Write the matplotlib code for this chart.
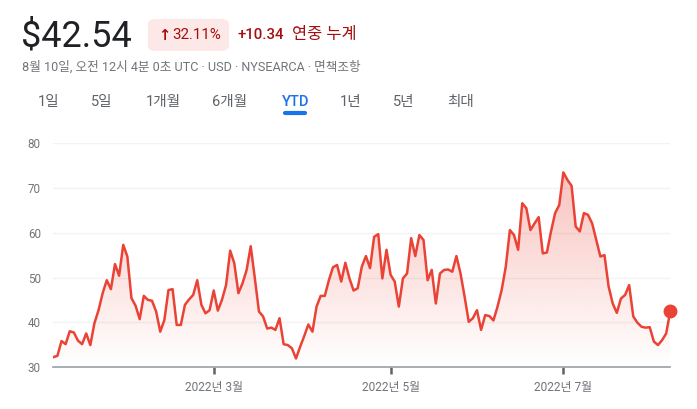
import numpy as np
import matplotlib
matplotlib.use("Agg")
import matplotlib.pyplot as plt
from matplotlib.patches import FancyBboxPatch, Polygon

# ---- data ----
prices = [32.2, 32.5, 35.8, 35.1, 38.0, 37.7, 35.9, 35.1, 37.5, 34.9,
          39.8, 42.7, 46.5, 49.4, 47.4, 53.0, 50.4, 57.3, 54.7, 45.4,
          43.7, 40.7, 45.9, 45.0, 44.8, 42.4, 37.9, 40.5, 47.2, 47.4,
          39.4, 39.4, 43.9, 45.1, 46.1, 49.4, 43.9, 42.0, 42.7, 47.1,
          42.6, 45.0, 48.3, 56.0, 53.2, 46.5, 48.7, 51.7, 57.0, 49.8,
          42.4, 41.3, 38.6, 38.8, 38.3, 40.9, 35.1, 34.9, 34.2, 31.9,
          34.5, 36.9, 39.5, 37.9, 43.5, 45.9, 45.9, 49.4, 52.3, 52.8,
          49.1, 53.3, 49.8, 47.1, 47.6, 52.4, 54.8, 52.1, 59.1, 59.7,
          49.8, 56.2, 50.6, 49.1, 43.5, 49.8, 50.9, 58.8, 54.8, 59.5,
          58.4, 49.4, 51.7, 44.2, 50.9, 51.7, 51.8, 51.3, 54.8, 50.9,
          45.7, 40.1, 40.9, 42.7, 38.3, 41.6, 41.4, 40.4, 43.5, 47.2,
          52.4, 60.6, 59.5, 56.2, 66.6, 65.5, 60.6, 62.1, 63.5, 55.4,
          55.6, 60.3, 64.4, 66.2, 73.5, 71.8, 70.5, 61.4, 60.3, 64.4,
          64.0, 62.1, 58.4, 54.7, 55.0, 48.0, 44.2, 42.1, 45.3, 46.1,
          48.3, 41.3, 39.9, 39.0, 38.8, 38.9, 35.7, 34.9, 36.0, 37.5,
          42.54]
xtick_idx = [39, 82, 124]
xtick_labels = ["2022년 3월", "2022년 5월", "2022년 7월"]
yticks = [30, 40, 50, 60, 70, 80]
tabs = ["1일", "5일", "1개월", "6개월", "YTD", "1년", "5년", "최대"]
tab_x = [38, 91, 146, 212, 282, 340, 393, 447]

FONT = ["Roboto", "Noto Sans CJK KR", "DejaVu Sans"]
plt.rcParams["font.family"] = FONT

RED = "#ea4335"
GRAY = "#70757a"
DARK = "#202124"
W, H = 697, 409

fig = plt.figure(figsize=(W / 100, H / 100), dpi=100)
fig.patch.set_facecolor("white")

def fx(px):
    return px / W

def fy(py):
    return 1 - py / H

# ---- header ----
fig.text(fx(21), fy(37), "$42.54", fontsize=26, color=DARK, va="center", ha="left")
pill = FancyBboxPatch((fx(148), fy(51)), fx(229) - fx(148), fy(19) - fy(51),
                      boxstyle="round,pad=0,rounding_size=0.012",
                      transform=fig.transFigure, facecolor="#fce8e6", edgecolor="none")
fig.add_artist(pill)
fig.text(fx(158), fy(35), "↑", fontsize=10.5, color="#a50e0e", va="center", ha="left",
         fontweight="bold", family=["DejaVu Sans"])
fig.text(fx(172), fy(35), "32.11%", fontsize=10.8, color="#a50e0e", va="center", ha="left")
fig.text(fx(237), fy(35), "+10.34", fontsize=10.8, color="#a50e0e", va="center", ha="left",
         fontweight="medium")
fig.text(fx(292), fy(34.5), "연중 누계", fontsize=11.8, color="#a50e0e", va="center", ha="left")
fig.text(fx(22), fy(67), "8월 10일, 오전 12시 4분 0초 UTC · USD · NYSEARCA · 면책조항",
         fontsize=9.1, color=GRAY, va="center", ha="left")

for lab, x in zip(tabs, tab_x):
    col = "#1a73e8" if lab == "YTD" else "#5f6368"
    fig.text(fx(x), fy(102), lab, fontsize=10.5, color=col, va="center", ha="left",
             fontweight="medium" if lab == "YTD" else "normal")
fig.add_artist(plt.Line2D([fx(285), fx(305)], [fy(113), fy(113)], transform=fig.transFigure,
                          color="#1a73e8", linewidth=3, solid_capstyle="round"))

# ---- chart ----
ax = fig.add_axes([fx(53.3), fy(367), fx(670.3) - fx(53.3), fy(143.3) - fy(367)])
x = np.arange(len(prices))
y = np.array(prices)
ax.set_xlim(0, len(prices) - 1)
ax.set_ylim(30, 80)

for v in yticks[1:]:
    ax.axhline(v, color="#f1f3f4", linewidth=1, zorder=0)

# gradient fill
ymax = y.max()
grad = np.zeros((256, 1, 4))
rgb = matplotlib.colors.to_rgb(RED)
grad[:, 0, 0:3] = rgb
grad[:, 0, 3] = np.linspace(0.32, 0.0, 256)
im = ax.imshow(grad, extent=[0, len(prices) - 1, 30, ymax], aspect="auto",
               origin="upper", zorder=1)
verts = [(0, 30)] + list(zip(x, y)) + [(len(prices) - 1, 30)]
poly = Polygon(verts, closed=True, facecolor="none", edgecolor="none")
ax.add_patch(poly)
im.set_clip_path(poly)

ax.plot(x, y, color=RED, linewidth=1.8, solid_joinstyle="round", zorder=3)
ax.plot([x[-1]], [y[-1]], "o", color=RED, markersize=9, clip_on=False, zorder=4)

for s in ["top", "right", "left"]:
    ax.spines[s].set_visible(False)
ax.spines["bottom"].set_color("#9aa0a6")
ax.spines["bottom"].set_linewidth(1.2)

ax.set_yticks(yticks)
ax.set_yticklabels([str(v) for v in yticks])
ax.tick_params(axis="y", length=0, pad=9, labelsize=8.4, labelcolor=GRAY)
ax.set_xticks(xtick_idx)
ax.set_xticklabels(xtick_labels)
ax.tick_params(axis="x", length=5, width=1.8, color="#5f6368", pad=5,
               labelsize=8.6, labelcolor=GRAY)

fig.savefig("out.png", dpi=100, facecolor="white")
